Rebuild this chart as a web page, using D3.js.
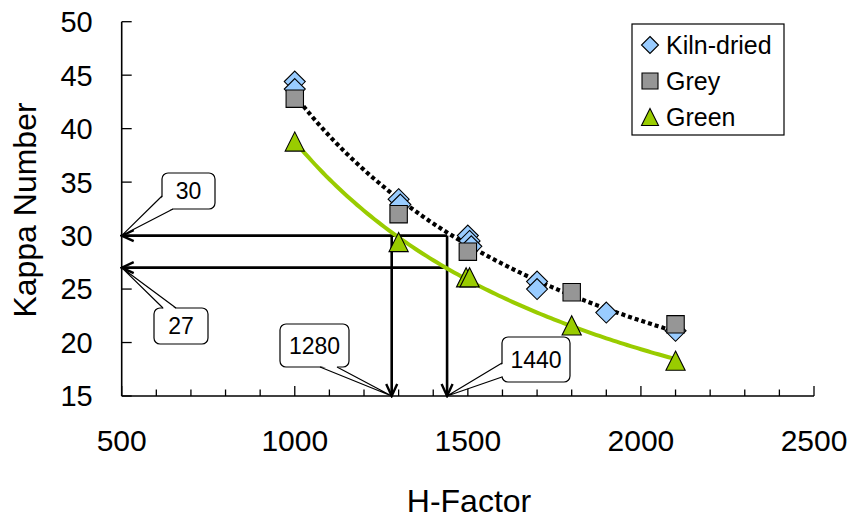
<!DOCTYPE html>
<html>
<head>
<meta charset="utf-8">
<script src="https://cdn.jsdelivr.net/npm/d3@7"></script>
<style>
  html, body { margin: 0; padding: 0; background: #fff; }
  svg { display: block; font-family: "Liberation Sans", Arial, sans-serif; }
</style>
</head>
<body>
<svg id="chart" width="855" height="518"></svg>
<script>
// Kappa number against H-factor for three wood conditions
const hKiln = [1000, 1000, 1300, 1305, 1500, 1505, 1510, 1700, 1700, 1900, 2100];
const kappaKiln = [44.4, 43.7, 33.4, 32.9, 30.0, 29.5, 29.0, 25.7, 25.0, 22.8, 21.1];

const hGrey = [1000, 1300, 1500, 1800, 2100];
const kappaGrey = [42.8, 32.0, 28.5, 24.7, 21.7];

const hGreen = [1000, 1300, 1495, 1505, 1800, 2100];
const kappaGreen = [38.8, 29.4, 26.1, 26.1, 21.6, 18.3];

const seriesNames = ["Kiln-dried", "Grey", "Green"];

// read-off guides: target kappa values and the H-factors they require
const guideKappa = [30, 27];
const guideH = [1280, 1440];

const xTicks = [500, 1000, 1500, 2000, 2500];
const xMinorTicks = d3.range(500, 2501, 100);
const yTicks = [15, 20, 25, 30, 35, 40, 45, 50];

const svg = d3.select("#chart");

const x = d3.scaleLinear().domain([500, 2500]).range([121.7, 814]);
const y = d3.scaleLinear().domain([15, 50]).range([396, 21.7]);

const zip = (xs, ys) => xs.map((v, i) => ({ h: v, k: ys[i] }));
const kiln = zip(hKiln, kappaKiln);
const grey = zip(hGrey, kappaGrey);
const green = zip(hGreen, kappaGreen);

// power-law least squares fit (k = a * h^b) on log-log values
function powerFit(pts) {
  const lx = pts.map(p => Math.log(p.h)), ly = pts.map(p => Math.log(p.k));
  const mx = d3.mean(lx), my = d3.mean(ly);
  let sxy = 0, sxx = 0;
  lx.forEach((v, i) => { sxy += (v - mx) * (ly[i] - my); sxx += (v - mx) * (v - mx); });
  const b = sxy / sxx, a = Math.exp(my - b * mx);
  return h => a * Math.pow(h, b);
}

const defs = svg.append("defs");
defs.append("marker")
  .attr("id", "arrow")
  .attr("viewBox", "-14 -7 16 14")
  .attr("refX", 0).attr("refY", 0)
  .attr("markerWidth", 16).attr("markerHeight", 14)
  .attr("markerUnits", "userSpaceOnUse")
  .attr("orient", "auto")
  .append("path")
  .attr("d", "M-12,-5.5 L0,0 L-12,5.5")
  .attr("fill", "none").attr("stroke", "#000").attr("stroke-width", 2.4);

// axes
const xAxisG = svg.append("g").attr("transform", `translate(0,${y(15)})`);
xAxisG.append("line").attr("x1", x(500)).attr("x2", x(2500)).attr("stroke", "#000").attr("stroke-width", 1.6);
xAxisG.selectAll("line.minor").data(xMinorTicks).join("line")
  .attr("class", "minor")
  .attr("x1", d => x(d)).attr("x2", d => x(d))
  .attr("y1", 0).attr("y2", d => (d % 500 === 0 ? -10 : -6.5))
  .attr("stroke", "#000").attr("stroke-width", 1.3);
xAxisG.selectAll("text").data(xTicks).join("text")
  .attr("x", d => x(d)).attr("y", 55)
  .attr("text-anchor", "middle").attr("font-size", 30).attr("fill", "#000")
  .text(d => d);

const yAxisG = svg.append("g").attr("transform", `translate(${x(500)},0)`);
yAxisG.append("line").attr("y1", y(15)).attr("y2", y(50)).attr("stroke", "#000").attr("stroke-width", 1.6);
yAxisG.selectAll("line.tick").data(yTicks).join("line")
  .attr("class", "tick")
  .attr("y1", d => y(d)).attr("y2", d => y(d))
  .attr("x1", 0).attr("x2", 10)
  .attr("stroke", "#000").attr("stroke-width", 1.3);
yAxisG.selectAll("text").data(yTicks).join("text")
  .attr("x", -29).attr("y", d => y(d)).attr("dy", "0.36em")
  .attr("text-anchor", "end").attr("font-size", 29).attr("fill", "#000")
  .text(d => d);

svg.append("text")
  .attr("transform", `translate(36,210) rotate(-90)`)
  .attr("text-anchor", "middle").attr("font-size", 32).attr("fill", "#000")
  .text("Kappa Number");
svg.append("text")
  .attr("x", 469).attr("y", 512)
  .attr("text-anchor", "middle").attr("font-size", 32).attr("fill", "#000")
  .text("H-Factor");

// guide arrows
const guides = svg.append("g").attr("stroke", "#000").attr("stroke-width", 2.6).attr("fill", "none");
const hMax = d3.max(guideH);
guideKappa.forEach(k => {
  guides.append("line")
    .attr("x1", x(hMax)).attr("y1", y(k)).attr("x2", x(500)).attr("y2", y(k))
    .attr("marker-end", "url(#arrow)");
});
const kMax = d3.max(guideKappa);
guideH.forEach(h => {
  guides.append("line")
    .attr("x1", x(h)).attr("y1", y(kMax)).attr("x2", x(h)).attr("y2", y(15))
    .attr("marker-end", "url(#arrow)");
});

// callouts
function callout(label, box, base, tip) {
  const g = svg.append("g");
  g.append("rect")
    .attr("x", box[0]).attr("y", box[1]).attr("width", box[2]).attr("height", box[3])
    .attr("rx", 6).attr("ry", 6)
    .attr("fill", "#fff").attr("stroke", "#000").attr("stroke-width", 1.2);
  const cx = box[0] + box[2] / 2, cy = box[1] + box[3] / 2;
  const inset = p => [p[0] + (cx - p[0]) * 0.08, p[1] + (cy - p[1]) * 0.08];
  g.append("path")
    .attr("d", `M${inset(base[0])}L${tip}L${inset(base[1])}Z`)
    .attr("fill", "#fff").attr("stroke", "none");
  g.append("path")
    .attr("d", `M${base[0]}L${tip}L${base[1]}`)
    .attr("fill", "none").attr("stroke", "#000").attr("stroke-width", 1.2);
  g.append("text")
    .attr("x", cx).attr("y", cy).attr("dy", "0.36em")
    .attr("text-anchor", "middle").attr("font-size", 23).attr("fill", "#000")
    .text(label);
}
callout(String(guideKappa[0]), [162, 173, 53, 36], [[162, 196], [173, 209]], [x(500), y(guideKappa[0])]);
callout(String(guideKappa[1]), [154, 308, 54, 36], [[163, 308], [176, 308]], [x(500), y(guideKappa[1])]);
callout(String(guideH[0]), [280, 324, 69, 43], [[320, 367], [337, 367]], [x(guideH[0]), y(15)]);
callout(String(guideH[1]), [502, 337, 68, 45], [[502, 363], [502, 377]], [x(guideH[1]), y(15)]);

// trend lines
const line = d3.line().x(d => x(d.h)).y(d => y(d.k));
const samples = d3.range(1000, 2100.1, 10);
const fitDark = powerFit(kiln.concat(grey));
const fitGreen = powerFit(green);
svg.append("path")
  .attr("d", line(samples.map(h => ({ h, k: fitGreen(h) }))))
  .attr("fill", "none").attr("stroke", "#99cc00").attr("stroke-width", 4);
svg.append("path")
  .attr("d", line(samples.map(h => ({ h, k: fitDark(h) }))))
  .attr("fill", "none").attr("stroke", "#000").attr("stroke-width", 4.2)
  .attr("stroke-dasharray", "4,3");

// markers
const diamond = s => `M0,${-s}L${s},0L0,${s}L${-s},0Z`;
const square = s => `M${-s},${-s}H${s}V${s}H${-s}Z`;
const triangle = s => `M0,${-s}L${s},${s}L${-s},${s}Z`;

const styles = [
  { data: kiln, path: diamond(10.5), legend: diamond(8.5), fill: "#99ccff" },
  { data: grey, path: square(8.7), legend: square(8), fill: "#969696" },
  { data: green, path: triangle(9.6), legend: triangle(8.5), fill: "#99cc00" }
];
styles.forEach(s => {
  svg.append("g").selectAll("path").data(s.data).join("path")
    .attr("transform", d => `translate(${x(d.h)},${y(d.k)})`)
    .attr("d", s.path)
    .attr("fill", s.fill).attr("stroke", "#000").attr("stroke-width", 1.1);
});

// legend
const lg = svg.append("g");
lg.append("rect").attr("x", 632).attr("y", 24).attr("width", 152).attr("height", 111)
  .attr("fill", "#fff").attr("stroke", "#000").attr("stroke-width", 1.2);
seriesNames.forEach((name, i) => {
  const cy = 45 + i * 36;
  lg.append("path").attr("transform", `translate(650,${cy})`).attr("d", styles[i].legend)
    .attr("fill", styles[i].fill).attr("stroke", "#000").attr("stroke-width", 1.1);
  lg.append("text").attr("x", 666).attr("y", cy).attr("dy", "0.36em")
    .attr("font-size", 25).attr("fill", "#000").text(name);
});
</script>
</body>
</html>
